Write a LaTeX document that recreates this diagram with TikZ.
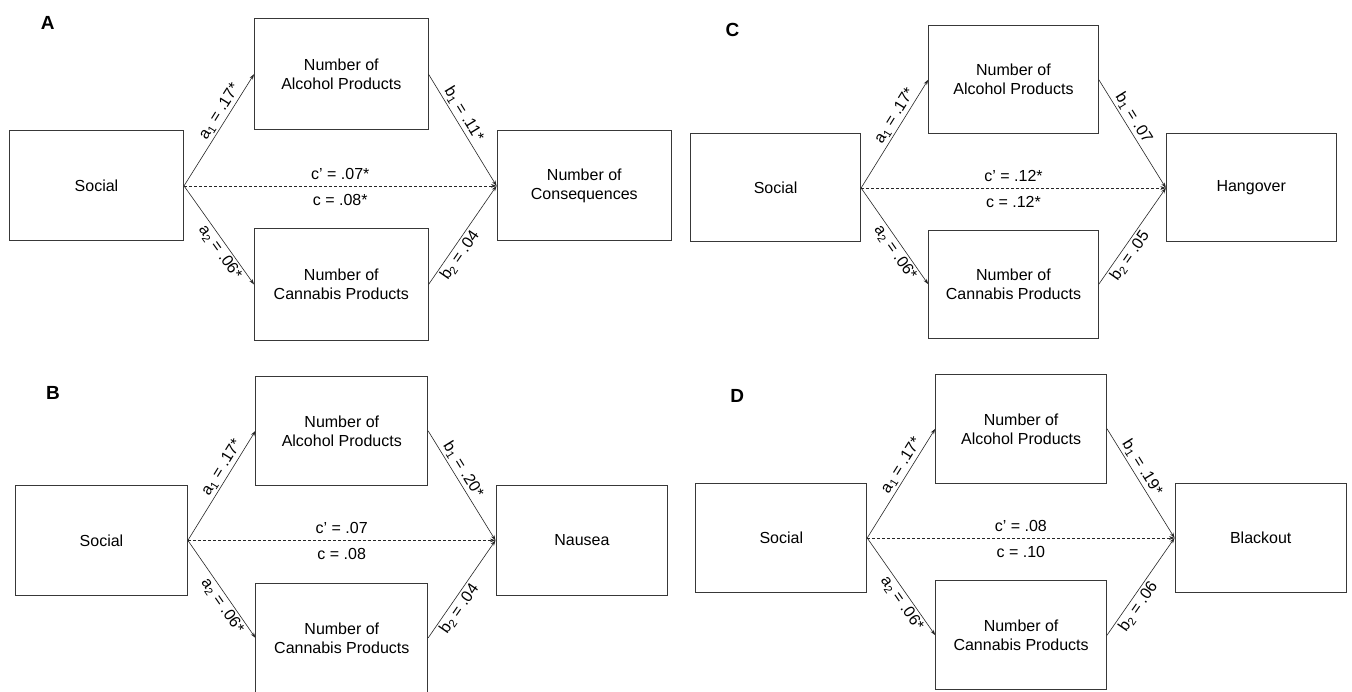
\documentclass[tikz,border=0pt]{standalone}
\usepackage{fontspec}
\setmainfont{Liberation Sans}
\usetikzlibrary{arrows.meta}
\tikzset{
  box/.style={draw=black!78, line width=1pt, align=center, inner sep=0pt, font=\fontsize{16}{19}\selectfont},
  arr/.style={draw=black!85, line width=0.6pt, -{Stealth[length=5.5pt,width=3.6pt]}},
  darr/.style={arr, dash pattern=on 3pt off 2pt},
  elab/.style={font=\fontsize{16}{18}\selectfont, sloped, inner sep=2pt},
  clab/.style={font=\fontsize{16}{18}\selectfont, inner sep=2pt},
  plab/.style={font=\fontsize{19}{21}\selectfont\bfseries, inner sep=0pt}
}
\begin{document}
\begin{tikzpicture}[x=1pt,y=-1pt]
\useasboundingbox[fill=white] (0,0) rectangle (1352,692);

% ---------- Panel A ----------
\node[plab] (labA) at (47.8,22.7) {A};
\node[box, minimum width=174pt, minimum height=110pt] (sA) at (96.5,185.9) {Social};
\node[box, minimum width=173.5pt, minimum height=111.5pt] (alA) at (341.3,74.2) {Number of\\Alcohol Products};
\node[box, minimum width=173.5pt, minimum height=111.5pt] (caA) at (341.3,284.5) {Number of\\Cannabis Products};
\node[box, minimum width=174.5pt, minimum height=110pt] (oA) at (584.3,185.9) {Number of\\Consequences};
\draw[arr] (sA.east) -- node[elab, above, pos=0.62] {a\textsubscript{1} = .17*} (alA.west);
\draw[arr] (alA.east) -- node[elab, above, pos=0.4] {b\textsubscript{1} = .11*} (oA.west);
\draw[arr] (sA.east) -- node[elab, below, pos=0.62] {a\textsubscript{2} = .06*} (caA.west);
\draw[arr] (caA.east) -- node[elab, below, pos=0.35] {b\textsubscript{2} = .04} (oA.west);
\draw[darr] (sA.east) -- node[clab, above=4pt] {c' = .07*} node[clab, below=6pt] {c = .08*} (oA.west);

% ---------- Panel C ----------
\node[plab] (labC) at (732.6,30) {C};
\node[box, minimum width=170pt, minimum height=108pt] (sC) at (775.6,188) {Social};
\node[box, minimum width=169.6pt, minimum height=108pt] (alC) at (1013.5,79.7) {Number of\\Alcohol Products};
\node[box, minimum width=169.6pt, minimum height=108pt] (caC) at (1013.5,284.2) {Number of\\Cannabis Products};
\node[box, minimum width=169.6pt, minimum height=108pt] (oC) at (1251.2,188) {Hangover};
\draw[arr] (sC.east) -- node[elab, above, pos=0.62] {a\textsubscript{1} = .17*} (alC.west);
\draw[arr] (alC.east) -- node[elab, above, pos=0.4] {b\textsubscript{1} = .07} (oC.west);
\draw[arr] (sC.east) -- node[elab, below, pos=0.62] {a\textsubscript{2} = .06*} (caC.west);
\draw[arr] (caC.east) -- node[elab, below, pos=0.35] {b\textsubscript{2} = .05} (oC.west);
\draw[darr] (sC.east) -- node[clab, above=4pt] {c' = .12*} node[clab, below=6pt] {c = .12*} (oC.west);

% ---------- Panel B ----------
\node[plab] (labB) at (53,392.8) {B};
\node[box, minimum width=171.7pt, minimum height=109.3pt] (sB) at (101.5,540.4) {Social};
\node[box, minimum width=171.7pt, minimum height=109.7pt] (alB) at (341.8,430.9) {Number of\\Alcohol Products};
\node[box, minimum width=171.7pt, minimum height=109.2pt] (caB) at (341.8,637.9) {Number of\\Cannabis Products};
\node[box, minimum width=171.8pt, minimum height=109.3pt] (oB) at (581.9,540.4) {Nausea};
\draw[arr] (sB.east) -- node[elab, above, pos=0.62] {a\textsubscript{1} = .17*} (alB.west);
\draw[arr] (alB.east) -- node[elab, above, pos=0.4] {b\textsubscript{1} = .20*} (oB.west);
\draw[arr] (sB.east) -- node[elab, below, pos=0.62] {a\textsubscript{2} = .06*} (caB.west);
\draw[arr] (caB.east) -- node[elab, below, pos=0.35] {b\textsubscript{2} = .04} (oB.west);
\draw[darr] (sB.east) -- node[clab, above=4pt] {c' = .07} node[clab, below=6pt] {c = .08} (oB.west);

% ---------- Panel D ----------
\node[plab] (labD) at (737.3,395.7) {D};
\node[box, minimum width=170.8pt, minimum height=108.6pt] (sD) at (781.3,538) {Social};
\node[box, minimum width=170.8pt, minimum height=109pt] (alD) at (1021.1,428.8) {Number of\\Alcohol Products};
\node[box, minimum width=170.8pt, minimum height=109pt] (caD) at (1021.1,635.2) {Number of\\Cannabis Products};
\node[box, minimum width=171.3pt, minimum height=108.6pt] (oD) at (1260.7,538) {Blackout};
\draw[arr] (sD.east) -- node[elab, above, pos=0.62] {a\textsubscript{1} = .17*} (alD.west);
\draw[arr] (alD.east) -- node[elab, above, pos=0.4] {b\textsubscript{1} = .19*} (oD.west);
\draw[arr] (sD.east) -- node[elab, below, pos=0.62] {a\textsubscript{2} = .06*} (caD.west);
\draw[arr] (caD.east) -- node[elab, below, pos=0.35] {b\textsubscript{2} = .06} (oD.west);
\draw[darr] (sD.east) -- node[clab, above=4pt] {c' = .08} node[clab, below=6pt] {c = .10} (oD.west);
\end{tikzpicture}
\end{document}
